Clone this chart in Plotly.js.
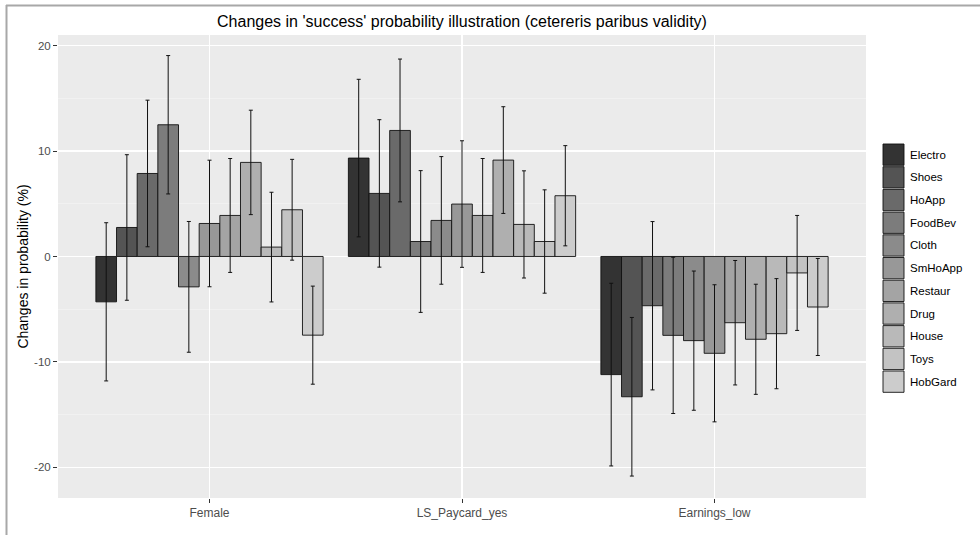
<!DOCTYPE html>
<html>
<head>
<meta charset="utf-8">
<script src="https://cdn.plot.ly/plotly-3.0.1.min.js"></script>
<style>html,body{margin:0;padding:0;background:#fff;}#chart{width:980px;height:535px;}</style>
</head>
<body>
<div id="chart"></div>
<script>
var categories = ['Female', 'LS_Paycard_yes', 'Earnings_low'];
var industries = ['Electro', 'Shoes', 'HoApp', 'FoodBev', 'Cloth', 'SmHoApp', 'Restaur', 'Drug', 'House', 'Toys', 'HobGard'];
var femaleVals   = [-4.30, 2.75, 7.87, 12.49, -2.88, 3.13, 3.89, 8.92, 0.89, 4.43, -7.46];
var femaleErr    = [7.50, 6.90, 6.95, 6.56, 6.20, 6.00, 5.40, 4.95, 5.20, 4.78, 4.65];
var paycardVals  = [9.33, 5.98, 11.95, 1.42, 3.42, 4.97, 3.89, 9.14, 3.04, 1.42, 5.76];
var paycardErr   = [7.47, 6.99, 6.77, 6.72, 6.05, 6.00, 5.40, 5.06, 5.08, 4.90, 4.75];
var earningsVals = [-11.20, -13.30, -4.67, -7.48, -7.98, -9.18, -6.28, -7.85, -7.32, -1.56, -4.79];
var earningsErr  = [8.66, 7.52, 7.98, 7.41, 6.60, 6.50, 5.90, 5.22, 5.22, 5.45, 4.60];
var yTicks = [-20, -10, 0, 10, 20];
var fills = ['#333333', '#545454', '#6A6A6A', '#7C7C7C', '#8B8B8B', '#989898', '#A4A4A4', '#AFAFAF', '#B9B9B9', '#C3C3C3', '#CCCCCC'];

var traces = industries.map(function (name, i) {
  return {
    type: 'bar',
    name: name,
    x: categories,
    y: [femaleVals[i], paycardVals[i], earningsVals[i]],
    marker: {color: fills[i], line: {color: '#111111', width: 0.9}},
    error_y: {type: 'data', array: [femaleErr[i], paycardErr[i], earningsErr[i]], visible: true,
              color: '#111111', thickness: 1, width: 2},
    showlegend: false,
    hoverinfo: 'x+y+name'
  };
});

// plot area in px
var L = 58, R = 866, T = 35, B = 498;
function px2x(p) { return (p - L) / (R - L); }
function px2y(p) { return (B - p) / (B - T); }

var shapes = [];
var annotations = [];
// custom legend (large keys like ggplot)
var keyX0 = 883, keyW = 21, keyTop = 144, pitch = 22.7, keyH = 21.3;
industries.forEach(function (name, i) {
  var y0 = keyTop + i * pitch;
  shapes.push({type: 'rect', xref: 'paper', yref: 'paper',
    x0: px2x(keyX0), x1: px2x(keyX0 + keyW), y0: px2y(y0 + keyH), y1: px2y(y0),
    fillcolor: fills[i], line: {color: '#111111', width: 0.9}});
  annotations.push({xref: 'paper', yref: 'paper', x: px2x(908), y: px2y(y0 + keyH / 2),
    xanchor: 'left', yanchor: 'middle', showarrow: false, text: name,
    font: {family: 'Liberation Sans, Arial, sans-serif', size: 11.5, color: '#000000'}});
});
// frame lines seen on reference edges
shapes.push({type: 'line', xref: 'paper', yref: 'paper', x0: px2x(6), x1: px2x(980), y0: px2y(5.5), y1: px2y(5.5),
  line: {color: '#A8A8A8', width: 2}});
shapes.push({type: 'line', xref: 'paper', yref: 'paper', x0: px2x(6.5), x1: px2x(6.5), y0: px2y(5), y1: px2y(535),
  line: {color: '#A8A8A8', width: 2}});

var layout = {
  width: 980, height: 535,
  margin: {l: L, r: 980 - R, t: T, b: 535 - B, pad: 0},
  paper_bgcolor: '#ffffff',
  plot_bgcolor: '#EBEBEB',
  font: {family: 'Liberation Sans, Arial, sans-serif', size: 11, color: '#4D4D4D'},
  title: {text: "Changes in 'success' probability illustration (cetereris paribus validity)",
    font: {family: 'Liberation Sans, Arial, sans-serif', size: 16, color: '#000000'},
    xref: 'paper', x: 0.5, xanchor: 'center', yref: 'container', y: 1 - 21 / 535, yanchor: 'middle'},
  barmode: 'group', bargap: 0.1, bargroupgap: 0,
  xaxis: {type: 'category', range: [-0.6, 2.6], showgrid: true, gridcolor: '#ffffff', gridwidth: 1.1,
    ticks: 'outside', ticklen: 4, tickcolor: '#333333', tickwidth: 1,
    tickfont: {size: 12, color: '#4D4D4D'}, zeroline: false, showline: false, fixedrange: true},
  yaxis: {range: [-22.9, 21.0], tickmode: 'array', tickvals: yTicks, ticktext: yTicks.map(String),
    showgrid: true, gridcolor: '#ffffff', gridwidth: 1.1,
    minor: {dtick: 5, tick0: 0, showgrid: true, gridcolor: '#F5F5F5', gridwidth: 0.6, ticks: ''},
    ticks: 'outside', ticklen: 4, tickcolor: '#333333', tickwidth: 1,
    tickfont: {size: 11.5, color: '#4D4D4D'}, zeroline: false, showline: false,
    title: {text: 'Changes in probability (%)', font: {size: 14, color: '#000000'}, standoff: 2},
    fixedrange: true},
  shapes: shapes,
  annotations: annotations,
  showlegend: false
};

Plotly.newPlot('chart', traces, layout, {displayModeBar: false, staticPlot: true});
</script>
</body>
</html>
